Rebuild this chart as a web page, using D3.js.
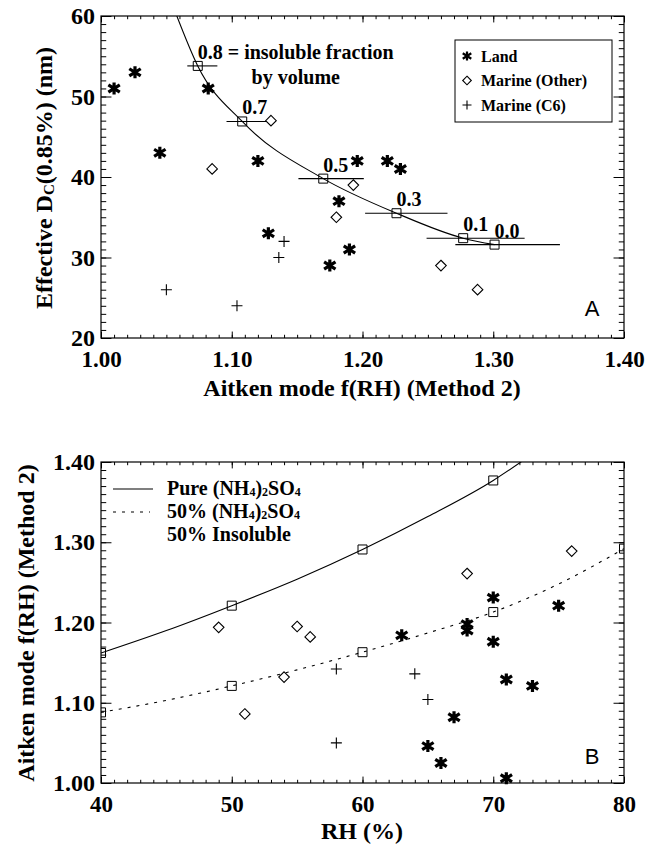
<!DOCTYPE html>
<html><head><meta charset="utf-8">
<script src="https://cdn.jsdelivr.net/npm/d3@7"></script>
<style>
body{margin:0;background:#fff}
svg{display:block}
text{font-family:"Liberation Serif","Times New Roman",serif;font-weight:bold;fill:#000}
</style>
</head><body><svg id="c" width="648" height="845"></svg>
<script>
// ---------- Panel A data ----------
const aXTicks = [1.00, 1.10, 1.20, 1.30, 1.40];
const aYTicks = [20, 30, 40, 50, 60];
const landAX = [1.010, 1.026, 1.045, 1.082, 1.120, 1.128, 1.175, 1.182, 1.190, 1.196, 1.219, 1.229];
const landAY = [51, 53, 43, 51, 42, 33, 29, 37, 31, 42, 42, 41];
const otherAX = [1.085, 1.130, 1.180, 1.193, 1.260, 1.288];
const otherAY = [41, 47, 35, 39, 29, 26];
const c6AX = [1.050, 1.104, 1.136, 1.140];
const c6AY = [26, 24, 30, 32];
const fracLabels = ["0.8", "0.7", "0.5", "0.3", "0.1", "0.0"];
const fracX = [1.074, 1.108, 1.170, 1.226, 1.277, 1.301];
const fracY = [53.8, 46.9, 39.8, 35.5, 32.4, 31.6];
const fracLo = [1.066, 1.096, 1.151, 1.202, 1.249, 1.271];
const fracHi = [1.089, 1.127, 1.201, 1.265, 1.324, 1.351];
const curveAX = [1.058, 1.074, 1.108, 1.170, 1.226, 1.277, 1.301];
const curveAY = [60.0, 53.8, 46.9, 39.8, 35.5, 32.4, 31.6];

// ---------- Panel B data ----------
const bXTicks = [40, 50, 60, 70, 80];
const bYTicks = [1.00, 1.10, 1.20, 1.30, 1.40];
const landBX = [63, 65, 66, 67, 68, 68, 70, 70, 71, 71, 73, 75];
const landBY = [1.184, 1.046, 1.025, 1.082, 1.198, 1.190, 1.231, 1.176, 1.129, 1.006, 1.121, 1.221];
const otherBX = [49, 51, 54, 55, 56, 68, 76];
const otherBY = [1.194, 1.086, 1.132, 1.195, 1.182, 1.261, 1.289];
const c6BX = [58, 58, 64, 65];
const c6BY = [1.142, 1.050, 1.136, 1.104];
const pureSqX = [40, 50, 60, 70];
const pureSqY = [1.162, 1.221, 1.291, 1.377];
const halfSqX = [40, 50, 60, 70, 80];
const halfSqY = [1.088, 1.121, 1.163, 1.213, 1.292];
const pureCurveX = [40, 45, 50, 55, 60, 65, 70, 73];
const pureCurveY = [1.162, 1.190, 1.221, 1.254, 1.291, 1.332, 1.377, 1.410];
const halfCurveX = [40, 45, 50, 55, 60, 65, 70, 75, 80];
const halfCurveY = [1.088, 1.103, 1.121, 1.141, 1.163, 1.187, 1.213, 1.248, 1.292];

const svg = d3.select("#c");
const zip = (xs, ys) => xs.map((x, i) => [x, ys[i]]);

// ---------- marker paths ----------
function starPath(r) {
  const p = d3.path();
  p.moveTo(0, -r); p.lineTo(0, r);
  p.moveTo(-r * 0.95, -r * 0.6); p.lineTo(r * 0.95, r * 0.6);
  p.moveTo(-r * 0.95, r * 0.6); p.lineTo(r * 0.95, -r * 0.6);
  return p.toString();
}
function plusPath(r) {
  const p = d3.path();
  p.moveTo(-r, 0); p.lineTo(r, 0);
  p.moveTo(0, -r); p.lineTo(0, r);
  return p.toString();
}
function diamondPath(r) {
  const p = d3.path();
  p.moveTo(0, -r); p.lineTo(r, 0); p.lineTo(0, r); p.lineTo(-r, 0); p.closePath();
  return p.toString();
}
function squarePath(h) {
  const p = d3.path();
  p.rect(-h, -h, 2 * h, 2 * h);
  return p.toString();
}
function drawMarkers(g, pts, x, y, kind) {
  const spec = {
    star: {d: starPath(6), sw: 3.2, fill: "none"},
    diamond: {d: diamondPath(5.3), sw: 1.1, fill: "#fff"},
    plus: {d: plusPath(5.5), sw: 1.1, fill: "none"},
    square: {d: squarePath(4.5), sw: 1.0, fill: "none"}
  }[kind];
  g.selectAll(null).data(pts).enter().append("path")
    .attr("d", spec.d)
    .attr("transform", d => `translate(${x(d[0])},${y(d[1])})`)
    .attr("fill", spec.fill).attr("stroke", "#000").attr("stroke-width", spec.sw);
}

// ---------- frame with inward ticks on all sides ----------
function frame(g, x, y, xt, yt, xfmt, yfmt, xMinorStep, yMinorStep) {
  const [x0, x1] = x.range(), [y0, y1] = y.range();
  const w = x1 - x0, h = y0 - y1;
  const xLen = 0.02 * h, yLen = 0.02 * w;
  const xd = x.domain(), yd = y.domain();
  const xMinor = d3.range(xd[0], xd[1] + xMinorStep / 2, xMinorStep);
  const yMinor = d3.range(yd[0], yd[1] + yMinorStep / 2, yMinorStep);
  const styleAxis = sel => {
    sel.select(".domain").remove();
    sel.selectAll("line").attr("stroke", "#000").attr("stroke-width", 1);
  };
  g.append("g").attr("transform", `translate(0,${y0})`)
    .call(d3.axisBottom(x).tickValues(xMinor).tickSize(-xLen / 2).tickFormat("")).call(styleAxis);
  const bx = g.append("g").attr("transform", `translate(0,${y0})`)
    .call(d3.axisBottom(x).tickValues(xt).tickSize(-xLen).tickPadding(13).tickFormat(xfmt)).call(styleAxis);
  bx.selectAll("text").attr("font-size", 23).attr("fill", "#000")
    .style("font-family", '"Liberation Serif",serif').style("font-weight", "bold");
  g.append("g").attr("transform", `translate(0,${y1})`)
    .call(d3.axisTop(x).tickValues(xMinor).tickSize(-xLen / 2).tickFormat("")).call(styleAxis);
  g.append("g").attr("transform", `translate(0,${y1})`)
    .call(d3.axisTop(x).tickValues(xt).tickSize(-xLen).tickFormat("")).call(styleAxis);
  g.append("g").attr("transform", `translate(${x0},0)`)
    .call(d3.axisLeft(y).tickValues(yMinor).tickSize(-yLen / 2).tickFormat("")).call(styleAxis);
  const ly = g.append("g").attr("transform", `translate(${x0},0)`)
    .call(d3.axisLeft(y).tickValues(yt).tickSize(-yLen).tickPadding(6).tickFormat(yfmt)).call(styleAxis);
  ly.selectAll("text").attr("font-size", 24).attr("fill", "#000")
    .style("font-family", '"Liberation Serif",serif').style("font-weight", "bold");
  g.append("g").attr("transform", `translate(${x1},0)`)
    .call(d3.axisRight(y).tickValues(yMinor).tickSize(-yLen / 2).tickFormat("")).call(styleAxis);
  g.append("g").attr("transform", `translate(${x1},0)`)
    .call(d3.axisRight(y).tickValues(yt).tickSize(-yLen).tickFormat("")).call(styleAxis);
  g.append("rect").attr("x", x0).attr("y", y1).attr("width", w).attr("height", h)
    .attr("fill", "none").attr("stroke", "#000").attr("stroke-width", 1.2);
}

// =================== PANEL A ===================
const xA = d3.scaleLinear().domain([1.0, 1.4]).range([101, 624]);
const yA = d3.scaleLinear().domain([20, 60]).range([338, 16]);
const gA = svg.append("g");
svg.append("clipPath").attr("id", "clipA").append("rect")
  .attr("x", 101).attr("y", 16).attr("width", 523).attr("height", 322);

gA.append("path").attr("clip-path", "url(#clipA)")
  .datum(zip(curveAX, curveAY))
  .attr("d", d3.line().x(d => xA(d[0])).y(d => yA(d[1])).curve(d3.curveMonotoneX))
  .attr("fill", "none").attr("stroke", "#000").attr("stroke-width", 1.1);
gA.selectAll(null).data(fracLabels.map((f, i) => i)).enter().append("line")
  .attr("x1", i => xA(fracLo[i])).attr("x2", i => xA(fracHi[i]))
  .attr("y1", i => yA(fracY[i])).attr("y2", i => yA(fracY[i]))
  .attr("stroke", "#000").attr("stroke-width", 1.1);
drawMarkers(gA, zip(fracX, fracY), xA, yA, "square");
drawMarkers(gA, zip(otherAX, otherAY), xA, yA, "diamond");
drawMarkers(gA, zip(landAX, landAY), xA, yA, "star");
drawMarkers(gA, zip(c6AX, c6AY), xA, yA, "plus");
gA.selectAll(null).data(fracLabels.map((f, i) => i)).enter().append("text")
  .attr("x", i => xA(fracX[i])).attr("y", i => yA(fracY[i]) - 14)
  .attr("dominant-baseline", "central").attr("font-size", 20)
  .text(i => i === 0 ? fracLabels[i] + " = insoluble fraction" : fracLabels[i]);
gA.append("text").attr("x", xA(fracX[0]) + 98).attr("y", yA(fracY[0]) + 11)
  .attr("dominant-baseline", "central").attr("text-anchor", "middle").attr("font-size", 20)
  .text("by volume");

frame(gA, xA, yA, aXTicks, aYTicks, d3.format(".2f"), d3.format("d"), 0.01, 1);

const legA = gA.append("g");
legA.append("rect").attr("x", 455).attr("y", 40).attr("width", 157).attr("height", 82)
  .attr("fill", "#fff").attr("stroke", "#000").attr("stroke-width", 1);
const legItems = [["star", "Land"], ["diamond", "Marine (Other)"], ["plus", "Marine (C6)"]];
legItems.forEach((it, i) => {
  const yy = 56 + i * 24.5;
  const sym = {star: starPath(4.5), diamond: diamondPath(4.3), plus: plusPath(4.5)}[it[0]];
  legA.append("path").attr("d", sym).attr("transform", `translate(467,${yy})`)
    .attr("fill", "none").attr("stroke", "#000").attr("stroke-width", it[0] === "star" ? 2.2 : 1.1);
  legA.append("text").attr("x", 481).attr("y", yy).attr("dominant-baseline", "central")
    .attr("font-size", 16).text(it[1]);
});
gA.append("text").attr("x", 592).attr("y", 308).attr("text-anchor", "middle")
  .attr("dominant-baseline", "central").attr("font-size", 22)
  .style("font-family", '"Liberation Sans",Arial,sans-serif').style("font-weight", "normal").text("A");

gA.append("text").attr("x", 362).attr("y", 388).attr("text-anchor", "middle")
  .attr("dominant-baseline", "central").attr("font-size", 24).text("Aitken mode f(RH) (Method 2)");
const tA = gA.append("text").attr("transform", "translate(44,178) rotate(-90)")
  .attr("text-anchor", "middle").attr("dominant-baseline", "central").attr("font-size", 24);
tA.append("tspan").text("Effective D");
tA.append("tspan").attr("font-size", 15).attr("dy", 5).text("C");
tA.append("tspan").attr("dy", -5).text("(0.85%) (nm)");

// =================== PANEL B ===================
const xB = d3.scaleLinear().domain([40, 80]).range([101, 624]);
const yB = d3.scaleLinear().domain([1.0, 1.4]).range([783, 462]);
const gB = svg.append("g");
svg.append("clipPath").attr("id", "clipB").append("rect")
  .attr("x", 101).attr("y", 462).attr("width", 523).attr("height", 321);

const lineB = d3.line().x(d => xB(d[0])).y(d => yB(d[1])).curve(d3.curveMonotoneX);
gB.append("path").attr("clip-path", "url(#clipB)").datum(zip(pureCurveX, pureCurveY))
  .attr("d", lineB).attr("fill", "none").attr("stroke", "#000").attr("stroke-width", 1.1);
gB.append("path").attr("clip-path", "url(#clipB)").datum(zip(halfCurveX, halfCurveY))
  .attr("d", lineB).attr("fill", "none").attr("stroke", "#000").attr("stroke-width", 1.1)
  .attr("stroke-dasharray", "3,6");
const sqB = gB.append("g").attr("clip-path", "url(#clipB)");
drawMarkers(sqB, zip(pureSqX, pureSqY), xB, yB, "square");
drawMarkers(sqB, zip(halfSqX, halfSqY), xB, yB, "square");
drawMarkers(gB, zip(otherBX, otherBY), xB, yB, "diamond");
drawMarkers(gB, zip(landBX, landBY), xB, yB, "star");
drawMarkers(gB, zip(c6BX, c6BY), xB, yB, "plus");

frame(gB, xB, yB, bXTicks, bYTicks, d3.format("d"), d3.format(".2f"), 1, 0.01);

const legB = gB.append("g");
legB.append("line").attr("x1", 113).attr("x2", 153).attr("y1", 489).attr("y2", 489)
  .attr("stroke", "#000").attr("stroke-width", 1.1);
legB.append("line").attr("x1", 113).attr("x2", 150).attr("y1", 512).attr("y2", 512)
  .attr("stroke", "#000").attr("stroke-width", 1.1).attr("stroke-dasharray", "3,6");
function ammSulf(t, prefix) {
  t.append("tspan").text(prefix + "(NH");
  t.append("tspan").attr("font-size", 12).attr("dy", 4).text("4");
  t.append("tspan").attr("dy", -4).text(")");
  t.append("tspan").attr("font-size", 12).attr("dy", 4).text("2");
  t.append("tspan").attr("dy", -4).text("SO");
  t.append("tspan").attr("font-size", 12).attr("dy", 4).text("4");
}
ammSulf(legB.append("text").attr("x", 167).attr("y", 488).attr("dominant-baseline", "central").attr("font-size", 20), "Pure ");
ammSulf(legB.append("text").attr("x", 167).attr("y", 511).attr("dominant-baseline", "central").attr("font-size", 20), "50% ");
legB.append("text").attr("x", 167).attr("y", 534).attr("dominant-baseline", "central").attr("font-size", 20).text("50% Insoluble");

gB.append("text").attr("x", 592).attr("y", 756).attr("text-anchor", "middle")
  .attr("dominant-baseline", "central").attr("font-size", 22)
  .style("font-family", '"Liberation Sans",Arial,sans-serif').style("font-weight", "normal").text("B");

gB.append("text").attr("x", 362).attr("y", 831).attr("text-anchor", "middle")
  .attr("dominant-baseline", "central").attr("font-size", 24).text("RH (%)");
gB.append("text").attr("transform", "translate(26,623) rotate(-90)")
  .attr("text-anchor", "middle").attr("dominant-baseline", "central").attr("font-size", 24)
  .text("Aitken mode f(RH) (Method 2)");
</script>
</body></html>
